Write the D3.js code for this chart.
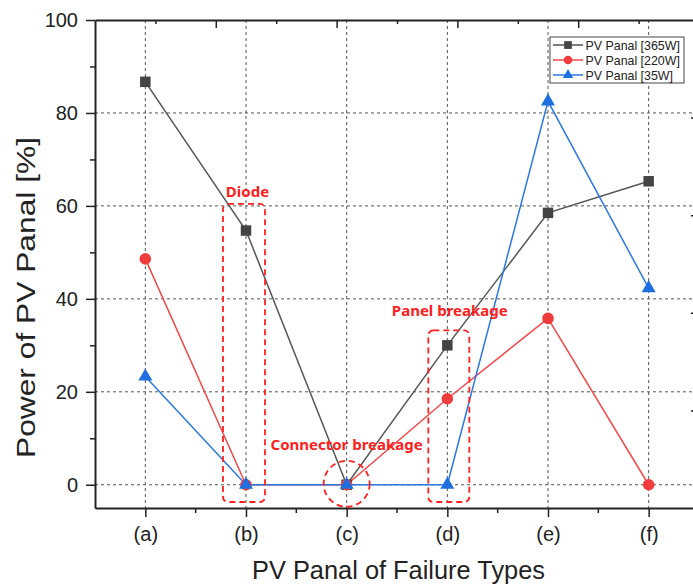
<!DOCTYPE html>
<html>
<head>
<meta charset="utf-8">
<script src="https://cdn.jsdelivr.net/npm/d3@7"></script>
<style>
  body { margin: 0; background: #fff; }
  svg { font-family: "Liberation Sans", Arial, sans-serif; }
</style>
</head>
<body>
<svg width="693" height="585"></svg>
<script>
// failure types on the x axis
var categories = ['(a)', '(b)', '(c)', '(d)', '(e)', '(f)']
var panel365 = [86.7, 54.7, 0, 30.0, 58.5, 65.3]
var panel220 = [48.6, 0, 0, 18.5, 35.8, 0]
var panel35 = [23.3, 0, 0, 0, 82.5, 42.3]
var yTicks = [0, 20, 40, 60, 80, 100]
var seriesNames = ['PV Panal [365W]', 'PV Panal [220W]', 'PV Panal [35W]']

var svg = d3.select('svg')
// note: "top" is taken by window.top, so plot edges get their own names
var pLeft = 95, pRight = 699, pTop = 20, pBottom = 508

var x = d3.scalePoint()
  .domain(categories)
  .range([pLeft, pRight])
  .padding(0.5)

var y = d3.scaleLinear()
  .domain([-5, 100])
  .range([pBottom, pTop])

// top / right frame scales (Origin style ticks)
var xTop = d3.scaleLinear().domain([0, 5]).range([pLeft, pRight])
var yRight = d3.scaleLinear().domain([0, 5]).range([pBottom, pTop])

// grid
var grid = svg.append('g')
grid.selectAll('.hg')
  .data([0, 20, 40, 60, 80]).enter().append('line')
  .attr('x1', pLeft).attr('x2', pRight)
  .attr('y1', d => y(d)).attr('y2', d => y(d))
  .attr('stroke', '#555').attr('stroke-width', 1)
  .attr('stroke-dasharray', '3,3')
grid.selectAll('.vg')
  .data(categories).enter().append('line')
  .attr('x1', d => x(d)).attr('x2', d => x(d))
  .attr('y1', pTop).attr('y2', pBottom)
  .attr('stroke', '#555').attr('stroke-width', 1)
  .attr('stroke-dasharray', '3,3')

// axes
var yAxis = svg.append('g')
  .attr('transform', 'translate(' + pLeft + ',0)')
  .call(d3.axisLeft(y).tickValues(yTicks).tickSize(9).tickPadding(8).tickSizeOuter(0))
yAxis.select('.domain').attr('stroke-width', 2).attr('stroke', '#222')
yAxis.selectAll('.tick line').attr('stroke-width', 1.5).attr('stroke', '#222')
yAxis.selectAll('text').attr('font-size', 20).attr('fill', '#222')

svg.append('g')
  .attr('transform', 'translate(' + pLeft + ',0)')
  .call(d3.axisLeft(y).tickValues([10, 30, 50, 70, 90]).tickSize(5).tickFormat(''))
  .call(g => g.select('.domain').remove())
  .selectAll('line').attr('stroke-width', 1.5).attr('stroke', '#222')

var xAxis = svg.append('g')
  .attr('transform', 'translate(0,' + pBottom + ')')
  .call(d3.axisBottom(x).tickSize(9).tickPadding(10).tickSizeOuter(0))
xAxis.select('.domain').attr('stroke-width', 2).attr('stroke', '#222')
xAxis.selectAll('.tick line').attr('stroke-width', 1.5).attr('stroke', '#222')
xAxis.selectAll('text').attr('font-size', 20).attr('fill', '#222')

// minor x ticks between categories
var xMinor = categories.slice(1).map((c, i) => (x(c) + x(categories[i])) / 2)
svg.append('g').selectAll('line')
  .data(xMinor).enter().append('line')
  .attr('x1', d => d).attr('x2', d => d)
  .attr('y1', pBottom).attr('y2', pBottom + 5)
  .attr('stroke', '#222').attr('stroke-width', 1.5)

// top frame
var topAxis = svg.append('g')
  .attr('transform', 'translate(0,' + pTop + ')')
  .call(d3.axisBottom(xTop).tickValues([1, 2, 3, 4]).tickSize(8).tickFormat('').tickSizeOuter(0))
topAxis.select('.domain').attr('stroke-width', 2).attr('stroke', '#222')
topAxis.selectAll('.tick line').attr('stroke-width', 1.5).attr('stroke', '#222')
svg.append('g')
  .attr('transform', 'translate(0,' + pTop + ')')
  .call(d3.axisBottom(xTop).tickValues([0.5, 1.5, 2.5, 3.5, 4.5]).tickSize(4).tickFormat(''))
  .call(g => g.select('.domain').remove())
  .selectAll('line').attr('stroke-width', 1.5).attr('stroke', '#222')

// right frame
var rightAxis = svg.append('g')
  .attr('transform', 'translate(' + pRight + ',0)')
  .call(d3.axisLeft(yRight).tickValues([1, 2, 3, 4]).tickSize(8).tickFormat('').tickSizeOuter(0))
rightAxis.select('.domain').attr('stroke-width', 2).attr('stroke', '#222')
rightAxis.selectAll('.tick line').attr('stroke-width', 1.5).attr('stroke', '#222')

// series
var series = [
  { name: seriesNames[0], values: panel365, color: '#555555', fill: '#444444', symbol: d3.symbolSquare, size: 110 },
  { name: seriesNames[1], values: panel220, color: '#f04a4a', fill: '#f03c3c', symbol: d3.symbolCircle, size: 105 },
  { name: seriesNames[2], values: panel35, color: '#2a78e4', fill: '#1f6fe0', symbol: d3.symbolTriangle, size: 85 }
]

var line = d3.line()
  .x((d, i) => x(categories[i]))
  .y(d => y(d))

series.forEach(function(s) {
  svg.append('path')
    .datum(s.values)
    .attr('d', line)
    .attr('fill', 'none')
    .attr('stroke', s.color)
    .attr('stroke-width', 1.5)
})
series.forEach(function(s) {
  svg.append('g').selectAll('path')
    .data(s.values).enter().append('path')
    .attr('transform', (d, i) => 'translate(' + x(categories[i]) + ',' + y(d) + ')')
    .attr('d', d3.symbol().type(s.symbol).size(s.size))
    .attr('fill', s.fill)
})

// annotations
var red = '#ff2020'
var ann = svg.append('g')
ann.append('rect')
  .attr('x', x('(b)') - 23).attr('y', y(60) - 2)
  .attr('width', 42).attr('height', pBottom - 6 - (y(60) - 2))
  .attr('rx', 5)
  .attr('fill', 'none').attr('stroke', red).attr('stroke-width', 1.8)
  .attr('stroke-dasharray', '6,4')
ann.append('rect')
  .attr('x', x('(d)') - 19).attr('y', y(33) - 1)
  .attr('width', 41).attr('height', pBottom - 6 - (y(33) - 1))
  .attr('rx', 5)
  .attr('fill', 'none').attr('stroke', red).attr('stroke-width', 1.8)
  .attr('stroke-dasharray', '6,4')
ann.append('circle')
  .attr('cx', x('(c)')).attr('cy', y(0) - 1)
  .attr('r', 23)
  .attr('fill', 'none').attr('stroke', red).attr('stroke-width', 1.8)
  .attr('stroke-dasharray', '6,4')

var labels = [
  { text: 'Diode', cat: '(b)', v: 61.9, dx: 1.5 },
  { text: 'Connector breakage', cat: '(c)', v: 7.5, dx: 0 },
  { text: 'Panel breakage', cat: '(d)', v: 36.3, dx: 2.5 }
]
ann.selectAll('text')
  .data(labels).enter().append('text')
  .attr('x', d => x(d.cat) + d.dx)
  .attr('y', d => y(d.v))
  .attr('text-anchor', 'middle')
  .attr('font-family', '"Noto Sans", "DejaVu Sans", sans-serif')
  .attr('font-weight', 'bold')
  .attr('font-size', 15)
  .attr('fill', red)
  .text(d => d.text)

// legend
var legend = svg.append('g').attr('transform', 'translate(550,37)')
legend.append('rect')
  .attr('width', 134).attr('height', 46)
  .attr('fill', '#fff').attr('stroke', '#444').attr('stroke-width', 1)
var item = legend.selectAll('.item')
  .data(series).enter().append('g')
  .attr('transform', (d, i) => 'translate(0,' + (8 + i * 15) + ')')
item.append('line')
  .attr('x1', 3).attr('x2', 33)
  .attr('stroke', d => d.color).attr('stroke-width', 1.5)
item.append('path')
  .attr('transform', 'translate(18,0)')
  .attr('d', d => d3.symbol().type(d.symbol).size(d.size * 0.55)())
  .attr('fill', d => d.fill)
item.append('text')
  .attr('x', 35.5).attr('y', 4.5)
  .attr('font-size', 12.4).attr('fill', '#222')
  .text(d => d.name)

// axis titles
svg.append('text')
  .attr('x', 398.5).attr('y', 579)
  .attr('text-anchor', 'middle')
  .attr('font-size', 25.5).attr('fill', '#222')
  .attr('textLength', 293).attr('lengthAdjust', 'spacingAndGlyphs')
  .text('PV Panal of Failure Types')
svg.append('text')
  .attr('transform', 'translate(35,297.5) rotate(-90)')
  .attr('text-anchor', 'middle')
  .attr('font-size', 26).attr('fill', '#222')
  .attr('textLength', 321).attr('lengthAdjust', 'spacingAndGlyphs')
  .text('Power of PV Panal [%]')
</script>
</body>
</html>
